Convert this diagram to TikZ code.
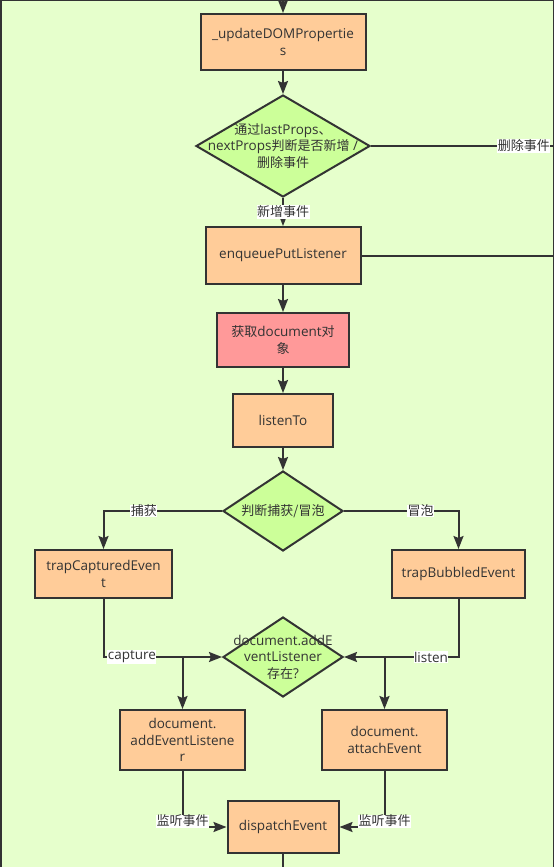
\documentclass[tikz,border=0pt]{standalone}
\usepackage{fontspec}
\setmainfont{Open Sans}
\newfontfamily\cjk{Noto Sans CJK SC}
\usetikzlibrary{arrows.meta,shapes.geometric}
\definecolor{bg}{HTML}{E6FFCC}
\definecolor{boxc}{HTML}{FFCC99}
\definecolor{dia}{HTML}{CCFF99}
\definecolor{redc}{HTML}{FF9999}
\definecolor{ink}{HTML}{333333}
\newcommand\zh[1]{{\cjk\fontsize{13}{16.5}\selectfont #1}}
\begin{document}
\begin{tikzpicture}[x=1pt,y=-1pt,
  every node/.style={text=ink, font=\fontsize{13.5}{16.5}\selectfont},
  proc/.style={draw=ink, line width=2pt, fill=boxc, rectangle, align=center, inner sep=0pt},
  dec/.style={draw=ink, line width=2pt, fill=dia, diamond, inner sep=0pt},
  conn/.style={draw=ink, line width=2pt},
  arr/.style={conn, -{Stealth[length=13pt,width=10pt,inset=2pt]}},
  elab/.style={fill=white, inner sep=0.5pt}
]
\useasboundingbox (0,0) rectangle (554,867);
\fill[bg] (0,0) rectangle (554,867);
\draw[ink, line width=1.5pt] (0.75,867) -- (0.75,0.75) -- (553.25,0.75) -- (553.25,867);

\node[proc, minimum width=165pt, minimum height=56pt] (upd) at (283,42) {\_updateDOMPropertie\\s};
\node[dec, minimum width=174pt, minimum height=102pt,
  label={[align=center]center:{\zh{通过}lastProps\zh{、}\\nextProps\zh{判断是否新增} /\\\zh{删除事件}}}] (d1) at (283,146) {};
\node[proc, minimum width=155pt, minimum height=57pt] (enq) at (283,255.5) {enqueuePutListener};
\node[proc, fill=redc, minimum width=132pt, minimum height=54pt] (doc) at (283,340) {\zh{获取}document\zh{对}\\\zh{象}};
\node[proc, minimum width=100pt, minimum height=53pt] (lst) at (283,420.5) {listenTo};
\node[dec, minimum width=120pt, minimum height=80pt,
  label={[align=center]center:{\zh{判断捕获/冒泡}}}] (d2) at (283,511) {};
\node[proc, minimum width=137pt, minimum height=48pt] (tce) at (103.5,574) {trapCapturedEven\\t};
\node[proc, minimum width=133pt, minimum height=48pt] (tbe) at (458.5,574) {trapBubbledEvent};
\node[dec, minimum width=120pt, minimum height=80pt,
  label={[align=center]center:{document.addE\\ventListener\\\zh{存在}?}}] (d3) at (283,657) {};
\node[proc, minimum width=125pt, minimum height=60pt] (ael) at (182.5,740) {document.\\addEventListene\\r};
\node[proc, minimum width=125pt, minimum height=60pt] (ate) at (384.5,740) {document.\\attachEvent};
\node[proc, minimum width=111pt, minimum height=52pt] (dis) at (283,827) {dispatchEvent};

\coordinate (top) at (283,0);
\coordinate (rb) at (553,146);
\coordinate (bot) at (283,867);

\draw[arr] (top) -- (upd);
\draw[arr] (upd) -- (d1);
\draw[conn] (d1.east) -- (rb) node[elab, pos=0.84] {\zh{删除事件}};
\draw[arr] (d1) -- (enq) node[elab, midway] {\zh{新增事件}};
\draw[conn] (enq.east) -- (enq.east -| rb);
\draw[arr] (enq) -- (doc);
\draw[arr] (doc) -- (lst);
\draw[arr] (lst) -- (d2);
\draw[arr] (d2.west) -| (tce.north) node[elab, pos=0.33] {\zh{捕获}};
\draw[arr] (d2.east) -| (tbe.north) node[elab, pos=0.335] {\zh{冒泡}};
\draw[arr] (tce.south) |- (d3.west) node[elab, pos=0.62] {capture};
\draw[arr] (tbe.south) |- (d3.east) node[elab, pos=0.62] {listen};
\draw[arr] (ael.north |- d3.west) -- (ael.north);
\draw[arr] (ate.north |- d3.east) -- (ate.north);
\draw[arr] (ael.south) |- (dis.west) node[elab, pos=0.5, yshift=6pt] {\zh{监听事件}};
\draw[arr] (ate.south) |- (dis.east) node[elab, pos=0.5, yshift=6pt] {\zh{监听事件}};
\draw[conn] (dis.south) -- (bot);
\end{tikzpicture}
\end{document}
